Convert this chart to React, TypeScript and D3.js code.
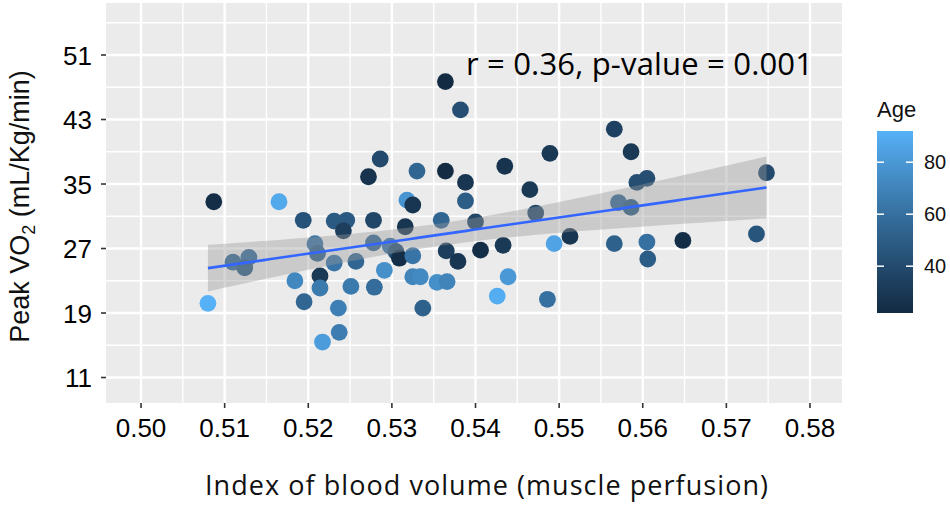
import { useMemo } from 'react'
import * as d3 from 'd3'

// index of blood volume, peak VO2 and age
const bloodIndex = [
  0.5087, 0.5165, 0.508, 0.511, 0.5129, 0.5124, 0.5194, 0.5184, 0.5195, 0.5208,
  0.5211, 0.5214, 0.5214, 0.5217, 0.5237, 0.5236, 0.5231, 0.5231, 0.5246, 0.5242,
  0.5251, 0.5257, 0.5272, 0.5286, 0.5278, 0.5278, 0.5279, 0.5291, 0.5298, 0.5305,
  0.5309, 0.5316, 0.5318, 0.5325, 0.533, 0.5325, 0.5325, 0.5334, 0.5337, 0.5364,
  0.5364, 0.5359, 0.5365, 0.5354, 0.5366, 0.5382, 0.5388, 0.5388, 0.54, 0.5379,
  0.5406, 0.5435, 0.5433, 0.5439, 0.5426, 0.5465, 0.5472, 0.5489, 0.5494, 0.5513,
  0.5486, 0.5566, 0.5586, 0.5593, 0.5605, 0.5571, 0.5586, 0.5566, 0.5605, 0.5606,
  0.5648, 0.5736, 0.5748,
]
const peakVo2 = [
  32.8, 32.8, 20.2, 25.3, 25.9, 24.6, 30.5, 23.0, 20.4, 27.6,
  26.4, 23.6, 22.1, 15.4, 16.6, 19.6, 25.2, 30.4, 30.5, 29.2,
  22.3, 25.4, 35.9, 38.1, 30.5, 27.7, 22.2, 24.3, 27.3, 26.6,
  25.8, 29.7, 33.0, 32.4, 36.6, 26.1, 23.5, 23.5, 19.6, 47.7,
  36.6, 30.5, 26.7, 22.8, 22.9, 44.2, 35.2, 32.9, 30.3, 25.4,
  26.8, 37.2, 27.4, 23.5, 21.1, 34.3, 31.4, 38.8, 27.6, 28.5,
  20.7, 41.8, 39.0, 35.2, 35.7, 32.7, 32.1, 27.6, 27.8, 25.7,
  28.0, 28.8, 36.4,
]
const age = [
  24, 88, 92, 55, 58, 50, 45, 72, 55, 62,
  52, 30, 65, 82, 66, 68, 62, 48, 48, 33,
  65, 55, 27, 40, 38, 55, 58, 76, 62, 45,
  24, 28, 78, 28, 55, 62, 70, 73, 52, 22,
  22, 55, 33, 76, 70, 42, 28, 50, 38, 28,
  24, 27, 30, 80, 90, 30, 40, 30, 86, 28,
  60, 35, 30, 42, 42, 56, 50, 52, 60, 50,
  24, 46, 40,
]

const xTicks = [0.5, 0.51, 0.52, 0.53, 0.54, 0.55, 0.56, 0.57, 0.58]
const yTicks = [11, 19, 27, 35, 43, 51]
const legendTicks = [40, 60, 80]

const width = 950
const height = 507
const panel = { left: 106, right: 842, top: 3, bottom: 403 }

export default function App() {
  const x = d3.scaleLinear().domain([0.49581, 0.58383]).range([panel.left, panel.right])
  const y = d3.scaleLinear().domain([7.84, 57.45]).range([panel.bottom, panel.top])

  const ageExtent = d3.extent(age) as [number, number]
  const colour = d3
    .scaleLinear<string>()
    .domain(ageExtent)
    .range(['#132B43', '#56B1F7'])
    .interpolate(d3.interpolateLab)

  // linear fit with 95% confidence band, like geom_smooth(method = 'lm')
  const fit = useMemo(() => {
    const n = bloodIndex.length
    const mx = d3.mean(bloodIndex) ?? 0
    const my = d3.mean(peakVo2) ?? 0
    let sxx = 0
    let sxy = 0
    bloodIndex.forEach((v, i) => {
      sxx += (v - mx) ** 2
      sxy += (v - mx) * (peakVo2[i] - my)
    })
    const slope = sxy / sxx
    const intercept = my - slope * mx
    const rss = d3.sum(bloodIndex, (v, i) => (peakVo2[i] - (intercept + slope * v)) ** 2)
    const s = Math.sqrt(rss / (n - 2))
    const t = 1.994
    const [x0, x1] = d3.extent(bloodIndex) as [number, number]
    return d3.range(81).map((k) => {
      const xv = x0 + ((x1 - x0) * k) / 80
      const yv = intercept + slope * xv
      const se = s * Math.sqrt(1 / n + (xv - mx) ** 2 / sxx)
      return { xv, yv, lo: yv - t * se, hi: yv + t * se }
    })
  }, [])

  const band = d3
    .area<{ xv: number; lo: number; hi: number }>()
    .x((d) => x(d.xv))
    .y0((d) => y(d.lo))
    .y1((d) => y(d.hi))(fit)
  const line = d3
    .line<{ xv: number; yv: number }>()
    .x((d) => x(d.xv))
    .y((d) => y(d.yv))(fit)

  const xMinor = d3.range(0.495, 0.5839, 0.01).filter((v) => v > 0.49581)
  const yMinor = d3.range(15, 57.45, 8)

  const bar = { x: 877, width: 36, top: 131, bottom: 313 }
  const legendY = d3.scaleLinear().domain(ageExtent).range([bar.bottom, bar.top])
  const stops = d3.range(0, 1.0001, 0.1)

  const sans = 'Liberation Sans, Arial, sans-serif'
  const prose = 'Open Sans, sans-serif'

  return (
    <svg width={width} height={height} style={{ position: 'absolute', left: 0, top: 0, background: '#fff' }}>
      <defs>
        <linearGradient id="ageBar" x1="0" y1="1" x2="0" y2="0">
          {stops.map((s) => (
            <stop key={s} offset={s} stopColor={colour(ageExtent[0] + s * (ageExtent[1] - ageExtent[0]))} />
          ))}
        </linearGradient>
      </defs>

      <rect x={panel.left} y={panel.top} width={panel.right - panel.left} height={panel.bottom - panel.top} fill="#EBEBEB" />

      {xMinor.map((v) => (
        <line key={`xm${v}`} x1={x(v)} x2={x(v)} y1={panel.top} y2={panel.bottom} stroke="#fff" strokeWidth={1.3} />
      ))}
      {yMinor.map((v) => (
        <line key={`ym${v}`} x1={panel.left} x2={panel.right} y1={y(v)} y2={y(v)} stroke="#fff" strokeWidth={1.3} />
      ))}
      {xTicks.map((v) => (
        <line key={`xg${v}`} x1={x(v)} x2={x(v)} y1={panel.top} y2={panel.bottom} stroke="#fff" strokeWidth={2.4} />
      ))}
      {yTicks.map((v) => (
        <line key={`yg${v}`} x1={panel.left} x2={panel.right} y1={y(v)} y2={y(v)} stroke="#fff" strokeWidth={2.4} />
      ))}

      {bloodIndex.map((v, i) => (
        <circle key={i} cx={x(v)} cy={y(peakVo2[i])} r={8.4} fill={colour(age[i])} />
      ))}

      <path d={band ?? ''} fill="#999999" fillOpacity={0.4} />
      <path d={line ?? ''} fill="none" stroke="#3366FF" strokeWidth={2.6} />

      <text x={466} y={75} fontFamily={prose} fontSize={31} fill="#000" textLength={347} lengthAdjust="spacing">
        r = 0.36, p-value = 0.001
      </text>

      {xTicks.map((v) => (
        <g key={`xt${v}`}>
          <line x1={x(v)} x2={x(v)} y1={panel.bottom} y2={panel.bottom + 5} stroke="#333" strokeWidth={1.6} />
          <text x={x(v)} y={437} textAnchor="middle" fontFamily={sans} fontSize={26} fill="#000">
            {v.toFixed(2)}
          </text>
        </g>
      ))}
      {yTicks.map((v) => (
        <g key={`yt${v}`}>
          <line x1={panel.left - 5} x2={panel.left} y1={y(v)} y2={y(v)} stroke="#333" strokeWidth={1.6} />
          <text x={92} y={y(v) + 9.5} textAnchor="end" fontFamily={sans} fontSize={26} fill="#000">
            {v}
          </text>
        </g>
      ))}

      <text x={205} y={495} fontFamily={prose} fontSize={27} fill="#111" textLength={563} lengthAdjust="spacing">
        Index of blood volume (muscle perfusion)
      </text>
      <text
        transform={`translate(29, ${(50 + 363) / 2}) rotate(-90)`}
        textAnchor="middle"
        fontFamily={sans}
        fontSize={27}
        fill="#111"
      >
        Peak VO<tspan fontSize={18} dy={6}>2</tspan>
        <tspan dy={-6}> (mL/Kg/min)</tspan>
      </text>

      <text x={877} y={117} fontFamily={sans} fontSize={22} fill="#111">
        Age
      </text>
      <rect x={bar.x} y={bar.top} width={bar.width} height={bar.bottom - bar.top} fill="url(#ageBar)" />
      {legendTicks.map((v) => (
        <g key={`lt${v}`}>
          <line x1={bar.x} x2={bar.x + 7} y1={legendY(v)} y2={legendY(v)} stroke="#fff" strokeWidth={1.5} />
          <line x1={bar.x + bar.width - 7} x2={bar.x + bar.width} y1={legendY(v)} y2={legendY(v)} stroke="#fff" strokeWidth={1.5} />
          <text x={924} y={legendY(v) + 7} fontFamily={sans} fontSize={20} fill="#111">
            {v}
          </text>
        </g>
      ))}
    </svg>
  )
}
